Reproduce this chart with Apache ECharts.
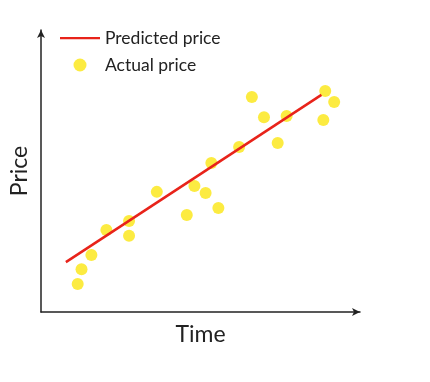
<!DOCTYPE html>
<html><head><meta charset="utf-8">
<script src="https://cdn.jsdelivr.net/npm/echarts@6/dist/echarts.min.js"></script>
<style>html,body{margin:0;padding:0;background:#fff}#c{width:430px;height:382px}</style>
</head><body><div id="c"></div>
<script>
const seriesNames = ['Predicted price', 'Actual price'];
const actualTime = [1.15,1.27,1.58,2.05,2.76,2.76,3.63,4.57,4.81,5.16,5.56,5.34,6.21,6.61,6.99,7.42,7.70,8.91,9.19,8.85];
const actualPrice = [0.99,1.52,2.02,2.91,3.23,2.70,4.26,3.44,4.47,4.22,3.69,5.28,5.85,7.62,6.91,5.99,6.95,7.84,7.45,6.81];
const predTime = [0.78, 8.79];
const predPrice = [1.77, 7.70];

const chart = echarts.init(document.getElementById('c'), null, {renderer:'canvas'});
const font = 'Lato, "Open Sans", sans-serif';
chart.setOption({
  animation: false,
  backgroundColor: '#fff',
  textStyle: {fontFamily: font},
  grid: {left: 38, right: 70, top: 30, bottom: 70},
  legend: {
    orient: 'vertical', left: 55, top: 23, itemWidth: 40, itemHeight: 13, itemGap: 7,
    textStyle: {fontFamily: font, fontSize: 17.5, lineHeight: 20, color: '#222', padding: [0,0,0,0]},
    data: [
      {name: seriesNames[0], icon: 'path://M0,0M40,13M0,5.5L40,5.5L40,7.8L0,7.8Z', itemStyle: {color: '#e8231a'}},
      {name: seriesNames[1], icon: 'circle'}
    ]
  },
  xAxis: {
    type: 'value', min: 0, max: 10,
    name: 'Time', nameLocation: 'middle', nameGap: 11,
    nameTextStyle: {fontFamily: font, fontSize: 23, color: '#222'},
    axisLine: {lineStyle: {color: '#222', width: 1.5}, symbol: ['none','arrow'], symbolSize: [6, 8]},
    axisTick: {show: false}, axisLabel: {show: false}, splitLine: {show: false}
  },
  yAxis: {
    type: 'value', min: 0, max: 10,
    name: 'Price', nameLocation: 'middle', nameGap: 10,
    nameTextStyle: {fontFamily: font, fontSize: 23, color: '#222'},
    axisLine: {show: true, lineStyle: {color: '#222', width: 1.5}, symbol: ['none','arrow'], symbolSize: [6, 8]},
    axisTick: {show: false}, axisLabel: {show: false}, splitLine: {show: false}
  },
  series: [
    {
      name: seriesNames[1], type: 'scatter', symbolSize: 12, z: 2,
      itemStyle: {color: '#fbe612'},
      data: actualTime.map((t, i) => [t, actualPrice[i]])
    },
    {
      name: seriesNames[0], type: 'line', symbol: 'none', z: 3,
      lineStyle: {color: '#e8231a', width: 2.5},
      itemStyle: {color: '#e8231a'},
      data: predTime.map((t, i) => [t, predPrice[i]])
    }
  ]
});
</script></body></html>
